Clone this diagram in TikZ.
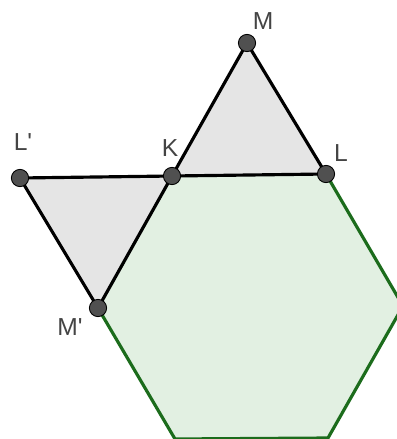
\documentclass[tikz,border=0pt]{standalone}
\usepackage{fontspec}
\setmainfont{Liberation Sans}
\usetikzlibrary{positioning}

\definecolor{hexline}{RGB}{28,108,28}
\definecolor{hexfill}{RGB}{226,240,226}
\definecolor{trifill}{RGB}{229,229,229}
\definecolor{ptfill}{RGB}{80,80,80}
\definecolor{labcol}{RGB}{68,68,68}

\begin{document}
\begin{tikzpicture}[
  x=0.02cm, y=-0.02cm,
  pt/.style={circle, draw=black, fill=ptfill, line width=0.5pt, inner sep=0pt, minimum size=10\pgflinewidth+4.8pt},
  lab/.style={text=labcol, font=\fontsize{14}{16}\selectfont},
  hexside/.style={draw=hexline, line width=1.8pt},
  triside/.style={draw=black, line width=1.8pt, line join=round}
]
  \useasboundingbox (0,0) rectangle (396,439);

  % points
  \coordinate (M) at (247,43);
  \coordinate (K) at (172,176);
  \coordinate (L) at (326,174);
  \coordinate (L') at (20,178);
  \coordinate (M') at (98,308);
  \coordinate (R) at (403,306);
  \coordinate (BR) at (328,438);
  \coordinate (BL) at (175,439);

  % hexagon
  \fill[hexfill] (K) -- (L) -- (R) -- (BR) -- (BL) -- (M') -- cycle;
  \draw[hexside] (L) -- (R) -- (BR) -- (BL) -- (M');

  % triangles
  \fill[trifill] (K) -- (M) -- (L) -- cycle;
  \fill[trifill] (L') -- (K) -- (M') -- cycle;
  \draw[triside] (K) -- (M) -- (L) -- (K);
  \draw[triside] (M') -- (L') -- (K) -- (M');

  % dots
  \foreach \p in {M,K,L,L',M'}
    \node[pt] (d\p) at (\p) {};

  % labels
  \node[lab] (lM) at (263,21) {M};
  \node[lab] (lK) at (170,148) {K};
  \node[lab] (lL) at (341,153) {L};
  \node[lab] (lL') at (23,142) {L\textquotesingle};
  \node[lab] (lM') at (70,327) {M\textquotesingle};
\end{tikzpicture}
\end{document}
